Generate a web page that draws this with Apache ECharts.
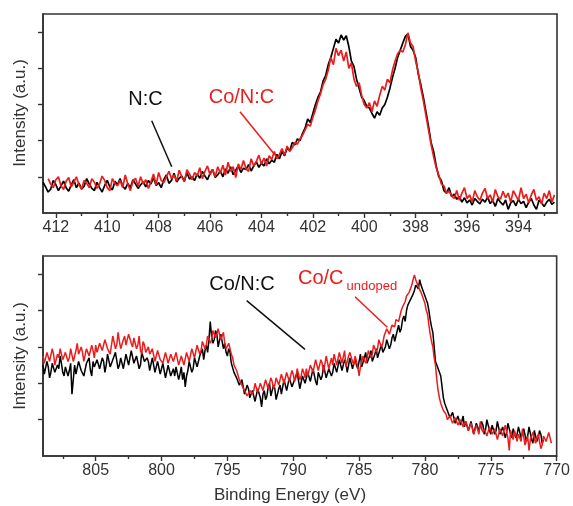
<!DOCTYPE html>
<html><head><meta charset="utf-8">
<script src="https://cdn.jsdelivr.net/npm/echarts@6/dist/echarts.min.js"></script>
<style>html,body{margin:0;padding:0;background:#fff}#c{width:573px;height:506px}</style>
</head><body><div id="c"></div>
<script>
// ---- Top panel (N 1s) ----
var topE = [
412.5,412.4,412.3,412.2,412.1,412.0,411.9,411.8,411.7,411.6,
411.5,411.4,411.3,411.2,411.1,411.0,410.9,410.8,410.7,410.6,
410.5,410.4,410.3,410.2,410.1,410.0,409.9,409.8,409.7,409.6,
409.5,409.4,409.3,409.2,409.1,409.0,408.9,408.8,408.7,408.6,
408.5,408.4,408.3,408.2,408.1,408.0,407.9,407.8,407.7,407.6,
407.5,407.4,407.3,407.2,407.1,407.0,406.9,406.8,406.7,406.6,
406.5,406.4,406.3,406.2,406.1,406.0,405.9,405.8,405.7,405.6,
405.5,405.4,405.3,405.2,405.1,405.0,404.9,404.8,404.7,404.6,
404.5,404.4,404.3,404.2,404.1,404.0,403.9,403.8,403.7,403.6,
403.5,403.4,403.3,403.2,403.1,403.0,402.9,402.8,402.7,402.6,
402.5,402.4,402.3,402.2,402.1,402.0,401.9,401.8,401.7,401.6,
401.5,401.4,401.3,401.2,401.1,401.0,400.9,400.8,400.7,400.6,
400.5,400.4,400.3,400.2,400.1,400.0,399.9,399.8,399.7,399.6,
399.5,399.4,399.3,399.2,399.1,399.0,398.9,398.8,398.7,398.6,
398.5,398.4,398.3,398.2,398.1,398.0,397.9,397.8,397.7,397.6,
397.5,397.4,397.3,397.2,397.1,397.0,396.9,396.8,396.7,396.6,
396.5,396.4,396.3,396.2,396.1,396.0,395.9,395.8,395.7,395.6,
395.5,395.4,395.3,395.2,395.1,395.0,394.9,394.8,394.7,394.6,
394.5,394.4,394.3,394.2,394.1,394.0,393.9,393.8,393.7,393.6,
393.5,393.4,393.3,393.2,393.1,393.0,392.9,392.8,392.7,392.6
];
var topNC = [
0.85,0.72,0.58,0.66,0.9,0.78,0.62,0.75,0.88,0.7,
0.6,0.78,0.92,0.7,0.83,0.66,0.74,0.95,0.8,0.68,
0.62,0.85,0.7,0.58,0.76,0.9,0.72,0.64,0.88,0.78,
0.95,0.74,0.66,0.82,0.7,0.92,0.8,0.68,0.78,0.86,
0.72,0.9,0.8,0.98,0.76,0.84,0.7,0.92,1.05,0.82,
0.9,1.1,0.86,0.96,1.02,0.88,1.12,0.94,1.0,0.9,
1.08,0.96,1.15,1.02,0.92,1.1,1.2,0.98,1.06,1.16,
1.0,1.22,1.1,1.28,1.06,1.18,1.3,1.12,1.24,1.2,
1.34,1.16,1.3,1.42,1.26,1.38,1.3,1.5,1.36,1.46,
1.4,1.62,1.5,1.7,1.58,1.8,1.72,1.95,1.88,2.05,
2.0,2.2,2.35,2.6,2.5,2.75,3.0,3.2,3.35,3.65,
3.8,4.1,4.3,4.55,4.8,4.7,4.92,4.78,4.9,4.6,
4.2,4.05,3.7,3.45,3.2,3.1,2.95,2.9,2.75,2.62,
2.8,2.7,2.9,3.0,3.2,3.45,3.75,4.0,4.3,4.5,
4.7,4.88,4.95,4.6,4.5,4.3,3.85,3.55,3.2,2.8,
2.4,1.95,1.7,1.3,1.0,0.9,0.62,0.55,0.7,0.45,
0.52,0.38,0.45,0.3,0.42,0.28,0.36,0.22,0.4,0.32,
0.25,0.38,0.3,0.44,0.26,0.35,0.18,0.4,0.3,0.22,
0.36,0.1,0.28,0.34,0.2,0.38,0.26,0.32,0.15,0.3,
0.4,0.22,0.1,0.35,0.28,0.18,0.3,0.38,0.24,0.3
];
var topCoNC = [
null,null,0.95,0.8,0.7,0.92,1.0,0.75,0.65,0.88,
0.98,0.72,0.85,1.0,0.78,0.66,0.9,0.82,0.7,0.95,
0.85,0.68,0.8,1.02,0.9,0.7,0.62,0.95,0.82,0.75,
0.9,0.7,1.05,0.8,0.62,0.88,0.96,0.74,1.0,0.8,
0.92,0.68,0.86,1.08,0.78,1.12,0.9,0.84,1.0,1.15,
0.95,1.05,0.88,1.18,1.0,0.86,1.2,1.08,0.92,1.12,
1.02,1.25,0.95,1.15,1.3,1.05,1.2,1.0,1.28,1.1,
1.32,1.05,1.4,1.15,1.28,0.98,1.36,1.2,1.45,1.22,
1.15,1.5,1.3,1.42,1.6,1.35,1.52,1.3,1.58,1.48,
1.7,1.5,1.62,1.78,1.6,1.85,1.7,1.8,1.95,1.9,
2.05,2.15,2.3,2.45,2.4,2.65,2.85,3.1,3.3,3.55,
3.7,3.95,4.3,4.1,4.55,4.35,4.5,4.2,4.45,4.0,
4.15,3.7,3.5,3.6,3.25,3.0,2.9,3.05,2.8,3.1,
2.95,3.25,3.5,3.4,3.7,3.6,3.95,4.2,4.4,4.5,
4.45,4.65,4.98,4.7,4.6,4.2,3.9,3.45,3.1,2.7,
2.3,1.9,1.55,1.25,1.05,0.8,0.75,0.55,0.6,0.48,
0.4,0.62,0.35,0.55,0.7,0.4,0.5,0.3,0.62,0.45,
0.35,0.55,0.68,0.4,0.5,0.3,0.65,0.45,0.38,0.6,
0.42,0.55,0.3,0.62,0.48,0.35,0.7,0.4,0.52,0.28,
0.5,0.65,0.35,0.45,0.25,0.55,0.4,0.62,0.3,0.5
];
var topMajorTicks = [394,396,398,400,402,404,406,408,410,412];
var topMinorTicks = [393,395,397,399,401,403,405,407,409,411];

// ---- Bottom panel (Co 2p) ----
var botE = [
809,808.9,808.8,808.7,808.6,808.5,808.4,808.3,808.2,808.1,808,807.9,807.8,807.7,807.6,807.5,807.4,807.3,807.2,807.1,
807,806.9,806.8,806.7,806.6,806.5,806.4,806.3,806.2,806.1,806,805.9,805.8,805.7,805.6,805.5,805.4,805.3,805.2,805.1,
805,804.9,804.8,804.7,804.6,804.5,804.4,804.3,804.2,804.1,804,803.9,803.8,803.7,803.6,803.5,803.4,803.3,803.2,803.1,
803,802.9,802.8,802.7,802.6,802.5,802.4,802.3,802.2,802.1,802,801.9,801.8,801.7,801.6,801.5,801.4,801.3,801.2,801.1,
801,800.9,800.8,800.7,800.6,800.5,800.4,800.3,800.2,800.1,800,799.9,799.8,799.7,799.6,799.5,799.4,799.3,799.2,799.1,
799,798.9,798.8,798.7,798.6,798.5,798.4,798.3,798.2,798.1,798,797.9,797.8,797.7,797.6,797.5,797.4,797.3,797.2,797.1,
797,796.9,796.8,796.7,796.6,796.5,796.4,796.3,796.2,796.1,796,795.9,795.8,795.7,795.6,795.5,795.4,795.3,795.2,795.1,
795,794.9,794.8,794.7,794.6,794.5,794.4,794.3,794.2,794.1,794,793.9,793.8,793.7,793.6,793.5,793.4,793.3,793.2,793.1,
793,792.9,792.8,792.7,792.6,792.5,792.4,792.3,792.2,792.1,792,791.9,791.8,791.7,791.6,791.5,791.4,791.3,791.2,791.1,
791,790.9,790.8,790.7,790.6,790.5,790.4,790.3,790.2,790.1,790,789.9,789.8,789.7,789.6,789.5,789.4,789.3,789.2,789.1,
789,788.9,788.8,788.7,788.6,788.5,788.4,788.3,788.2,788.1,788,787.9,787.8,787.7,787.6,787.5,787.4,787.3,787.2,787.1,
787,786.9,786.8,786.7,786.6,786.5,786.4,786.3,786.2,786.1,786,785.9,785.8,785.7,785.6,785.5,785.4,785.3,785.2,785.1,
785,784.9,784.8,784.7,784.6,784.5,784.4,784.3,784.2,784.1,784,783.9,783.8,783.7,783.6,783.5,783.4,783.3,783.2,783.1,
783,782.9,782.8,782.7,782.6,782.5,782.4,782.3,782.2,782.1,782,781.9,781.8,781.7,781.6,781.5,781.4,781.3,781.2,781.1,
781,780.9,780.8,780.7,780.6,780.5,780.4,780.3,780.2,780.1,780,779.9,779.8,779.7,779.6,779.5,779.4,779.3,779.2,779.1,
779,778.9,778.8,778.7,778.6,778.5,778.4,778.3,778.2,778.1,778,777.9,777.8,777.7,777.6,777.5,777.4,777.3,777.2,777.1,
777,776.9,776.8,776.7,776.6,776.5,776.4,776.3,776.2,776.1,776,775.9,775.8,775.7,775.6,775.5,775.4,775.3,775.2,775.1,
775,774.9,774.8,774.7,774.6,774.5,774.4,774.3,774.2,774.1,774,773.9,773.8,773.7,773.6,773.5,773.4,773.3,773.2,773.1,
773,772.9,772.8,772.7,772.6,772.5,772.4,772.3,772.2,772.1,772,771.9,771.8,771.7,771.6,771.5,771.4,771.3,771.2,771.1,
771,770.9,770.8,770.7,770.6,770.5,770.4
];
var botCoNC = [
2.5,2.25,2.2,2.6,2.45,2.15,2.3,2.55,2.6,2.3,2.25,2.5,2.4,2.75,2.55,2.3,2.2,2.45,2.45,2.2,
2.35,2.55,1.7,2.1,2.5,2.25,2.3,2.6,2.65,2.35,2.4,2.2,2.2,2.55,2.55,2.7,2.35,2.2,2.6,2.45,
2.45,2.65,2.7,2.4,2.35,2.7,2.6,2.3,2.5,2.8,2.75,2.45,2.4,2.65,2.6,2.85,2.8,2.4,2.5,2.7,
2.65,2.4,2.45,2.8,2.75,2.5,2.55,2.9,2.85,2.55,2.6,2.75,2.7,2.4,2.5,2.85,2.8,2.6,2.55,2.7,
2.6,2.35,2.4,2.7,2.65,2.3,2.35,2.6,2.55,2.25,2.3,2.55,2.5,2.15,2.2,2.5,2.45,2.2,2.3,2.4,
2.2,2.45,2.4,2.1,2.25,2.45,2.1,2.3,1.9,2.2,2.35,2.6,2.55,2.3,2.4,2.7,2.7,2.45,2.6,2.75,
2.8,2.95,2.65,2.9,3.05,2.85,3.2,3.7,3.3,3.1,3.2,3.45,3.35,3.0,3.0,3.35,3.3,2.95,3.1,2.85,
2.75,2.95,2.85,2.55,2.5,2.3,2.35,2.15,2.2,1.95,1.95,2.1,2.05,1.7,1.7,1.95,1.85,1.6,1.55,1.8,
1.75,1.5,1.5,1.85,1.9,1.6,1.35,1.7,1.8,1.55,1.65,1.9,2.0,1.65,1.7,1.95,1.85,1.55,1.6,1.85,
1.95,1.7,1.75,2.1,2.1,1.8,1.8,2.15,2.2,1.9,1.9,2.1,2.05,2.3,2.25,1.85,1.85,2.2,2.15,2.0,
2.0,2.3,2.25,2.05,2.1,2.4,2.35,2.05,1.95,2.3,2.3,2.1,2.2,2.5,2.45,2.15,2.15,2.4,2.4,2.2,
2.3,2.55,2.5,2.3,2.25,2.65,2.6,2.35,2.4,2.65,2.55,2.3,2.35,2.7,2.65,2.4,2.45,2.7,2.5,2.4,
2.6,2.8,2.45,2.5,2.7,2.85,2.55,2.6,2.75,2.9,2.6,2.65,2.8,2.95,2.7,2.75,2.95,3.05,2.85,2.8,
3.0,3.2,3.15,2.95,3.05,3.25,3.35,3.15,3.3,3.45,3.6,3.4,3.5,3.75,3.85,3.7,4.0,4.15,4.2,4.3,
4.35,4.45,4.55,4.7,4.75,4.6,4.85,4.7,4.6,4.55,4.4,4.3,4.2,4.0,3.75,3.55,3.4,3.0,2.6,2.5,
2.45,2.3,2.2,1.9,1.6,1.45,1.35,1.25,1.2,1.05,1.0,1.2,1.15,0.9,0.85,1.1,1.05,0.85,0.95,1.1,
0.8,0.95,1.0,0.7,0.75,0.95,0.9,0.6,0.65,0.9,0.95,0.7,0.7,0.95,0.85,0.6,0.72,1.0,0.95,0.7,
0.6,0.85,0.85,0.6,0.7,0.95,0.9,0.6,0.55,0.8,0.75,0.5,0.65,0.9,0.9,0.6,0.5,0.75,0.7,0.5,
0.6,0.8,0.8,0.5,0.45,0.75,0.7,0.4,0.55,0.8,0.75,0.45,0.35,0.7,0.65,0.4,0.5,0.7,0.6,0.35,
0.45
];
var botCoC = [
2.75,2.55,2.6,2.85,2.9,2.6,2.65,2.95,2.8,2.5,2.55,2.8,2.7,2.95,2.95,2.65,2.6,2.85,2.8,2.6,
2.7,2.95,2.9,2.6,2.6,2.9,3.1,2.8,2.75,3.0,2.85,2.6,2.65,2.95,3.0,2.75,2.8,3.05,2.9,2.7,
3.05,2.85,2.8,3.1,3.15,2.9,2.9,3.2,3.2,2.95,3.0,2.8,2.85,3.3,3.25,2.95,3.05,3.4,3.15,2.95,
2.95,3.2,3.3,3.05,3.1,3.35,3.4,3.1,3.0,3.25,3.25,2.95,3.05,3.3,2.9,2.8,3.15,3.05,2.85,2.9,
3.0,2.8,2.75,2.95,2.9,2.6,2.65,2.9,2.85,2.65,2.7,2.55,2.6,2.85,2.8,2.55,2.55,2.8,2.75,2.6,
2.6,2.85,2.8,2.5,2.5,2.75,2.7,2.5,2.55,2.85,2.85,2.6,2.65,2.95,2.95,2.7,2.75,3.05,3.0,2.8,
2.9,3.15,3.15,2.95,3.05,3.3,3.3,3.1,3.2,3.45,3.5,3.25,3.35,3.5,3.45,3.2,3.25,3.4,3.1,2.95,
2.95,3.1,3.05,2.8,2.7,2.5,2.55,2.35,2.3,2.1,2.15,1.95,1.95,1.8,1.85,1.65,1.6,1.8,1.75,1.7,
1.8,2.0,1.95,1.75,1.75,2.0,2.0,1.8,1.85,2.1,2.1,1.85,1.9,2.15,2.05,1.85,1.95,2.15,2.15,1.95,
2.0,2.25,2.2,2.0,2.05,2.3,2.3,2.05,2.1,2.35,2.25,2.05,2.15,2.4,2.35,2.1,2.2,2.4,2.3,2.15,
2.4,2.2,2.25,2.5,2.5,2.3,2.35,2.65,2.6,2.35,2.4,2.65,2.55,2.3,2.35,2.75,2.7,2.4,2.45,2.7,
2.5,2.8,2.75,2.5,2.55,2.85,2.8,2.55,2.6,2.9,2.45,2.5,2.75,2.85,2.9,2.6,2.5,2.75,2.7,2.45,
2.2,2.45,2.6,2.75,2.75,2.55,2.65,2.9,2.9,2.7,2.8,3.05,3.0,2.85,2.95,3.2,3.2,3.0,3.1,3.3,
3.3,3.5,3.45,3.35,3.4,3.6,3.6,3.55,3.75,3.8,3.7,3.85,4.0,4.1,4.05,4.25,4.4,4.35,4.5,4.6,
4.7,4.85,4.98,4.85,4.75,4.65,4.6,4.5,4.4,4.3,4.2,4.0,3.9,3.6,3.35,3.15,3.0,2.7,2.5,2.1,
1.8,1.6,1.45,1.35,1.25,1.2,1.15,1.0,1.0,1.1,1.1,0.9,0.95,1.05,1.05,0.85,0.85,1.0,0.95,0.8,
0.75,0.95,0.9,0.7,0.7,0.9,0.85,0.6,0.6,0.85,0.8,0.6,0.95,0.75,0.65,0.75,0.75,0.55,0.6,0.8,
0.8,0.6,0.6,0.75,0.7,0.45,0.5,0.75,0.75,0.55,0.55,0.85,0.8,0.5,0.15,0.7,0.65,0.45,0.7,0.7,
0.4,0.6,0.6,0.4,0.75,0.7,0.3,0.35,0.55,0.15,0.45,0.4,0.65,0.6,0.35,0.4,0.6,0.55,0.2,0.3,
0.55,0.5,0.4,0.45,0.65,0.5,0.35
];
var botMajorTicks = [770,775,780,785,790,795,800,805];
var botMinorTicks = [772.5,777.5,782.5,787.5,792.5,797.5,802.5,807.5];
var yTicks = [1,2,3,4,5];

function pairs(xs, ys){
  var out = [];
  for (var i = 0; i < ys.length; i++) { if (ys[i] !== null) out.push([xs[i], ys[i]]); }
  return out;
}

var FONT = "'Liberation Sans', Arial, sans-serif";
var AX = '#333';
var RED = '#ec1c1c';

function xMajor(grid, min, max, ticks){
  return {gridIndex:grid, type:'value', inverse:true, min:min, max:max, position:'bottom',
    axisLine:{show:true, onZero:false, lineStyle:{color:AX, width:1.6}},
    axisTick:{show:true, inside:false, length:5, customValues:ticks, lineStyle:{color:AX, width:1.4}},
    axisLabel:{show:true, customValues:ticks, margin:7, color:'#333', fontSize:16, fontFamily:FONT},
    splitLine:{show:false}};
}
function xMinor(grid, min, max, ticks){
  return {gridIndex:grid, type:'value', inverse:true, min:min, max:max, position:'bottom',
    axisLine:{show:false},
    axisTick:{show:true, inside:false, length:3, customValues:ticks, lineStyle:{color:AX, width:1.4}},
    axisLabel:{show:false}, splitLine:{show:false}};
}
function yAx(grid){
  return {gridIndex:grid, type:'value', min:0, max:5.5,
    axisLine:{show:true, onZero:false, lineStyle:{color:AX, width:1.6}},
    axisTick:{show:true, inside:false, length:5, customValues:yTicks, lineStyle:{color:AX, width:1.4}},
    axisLabel:{show:false}, splitLine:{show:false}};
}
function ser(xi, yi, data, color, w){
  return {type:'line', xAxisIndex:xi, yAxisIndex:yi, data:data, showSymbol:false, symbol:'none',
    lineStyle:{color:color, width:w}, itemStyle:{color:color}, animation:false};
}

var chart = echarts.init(document.getElementById('c'), null, {renderer:'canvas'});
chart.setOption({
  animation:false,
  backgroundColor:'#fff',
  grid:[
    {left:43, top:14, width:514, height:199, show:true, borderColor:AX, borderWidth:1.6, backgroundColor:'transparent'},
    {left:43, top:256, width:515, height:200, show:true, borderColor:AX, borderWidth:1.6, backgroundColor:'transparent'}
  ],
  xAxis:[
    xMajor(0, 392.5, 412.5, topMajorTicks),
    xMinor(0, 392.5, 412.5, topMinorTicks),
    xMajor(1, 770, 809, botMajorTicks),
    xMinor(1, 770, 809, botMinorTicks)
  ],
  yAxis:[yAx(0), yAx(1)],
  series:[
    ser(0, 0, pairs(topE, topNC), '#000', 1.7),
    ser(0, 0, pairs(topE, topCoNC), RED, 1.7),
    ser(2, 1, pairs(botE, botCoNC), '#000', 1.5),
    ser(2, 1, pairs(botE, botCoC), RED, 1.5)
  ],
  graphic:[
    {type:'text', x:20, y:113, rotation:Math.PI/2, style:{text:'Intensity (a.u.)', fill:'#333', font:"17px " + FONT, textAlign:'center', textVerticalAlign:'middle'}},
    {type:'text', x:20, y:356, rotation:Math.PI/2, style:{text:'Intensity (a.u.)', fill:'#333', font:"17px " + FONT, textAlign:'center', textVerticalAlign:'middle'}},
    {type:'text', x:290, y:495, style:{text:'Binding Energy (eV)', fill:'#333', font:"17px " + FONT, textAlign:'center', textVerticalAlign:'middle'}},
    {type:'text', x:145.5, y:99, style:{text:'N:C', fill:'#111', font:"20px " + FONT, textAlign:'center', textVerticalAlign:'middle'}},
    {type:'line', shape:{x1:151.7, y1:120.7, x2:171.7, y2:166.7}, style:{stroke:'#111', lineWidth:1.5}},
    {type:'text', x:241.5, y:97, style:{text:'Co/N:C', fill:RED, font:"20px " + FONT, textAlign:'center', textVerticalAlign:'middle'}},
    {type:'line', shape:{x1:240, y1:111.7, x2:275, y2:155}, style:{stroke:RED, lineWidth:1.5}},
    {type:'text', x:242, y:284, style:{text:'Co/N:C', fill:'#111', font:"20px " + FONT, textAlign:'center', textVerticalAlign:'middle'}},
    {type:'line', shape:{x1:246.7, y1:300.7, x2:305, y2:349.3}, style:{stroke:'#111', lineWidth:1.5}},
    {type:'text', x:298, y:278, style:{text:'Co/C', fill:RED, font:"20px " + FONT, textAlign:'left', textVerticalAlign:'middle'}},
    {type:'text', x:346.5, y:286, style:{text:'undoped', fill:RED, font:"13px " + FONT, textAlign:'left', textVerticalAlign:'middle'}},
    {type:'line', shape:{x1:355, y1:296.7, x2:387.3, y2:327.3}, style:{stroke:RED, lineWidth:1.5}}
  ]
});
</script>
</body></html>
